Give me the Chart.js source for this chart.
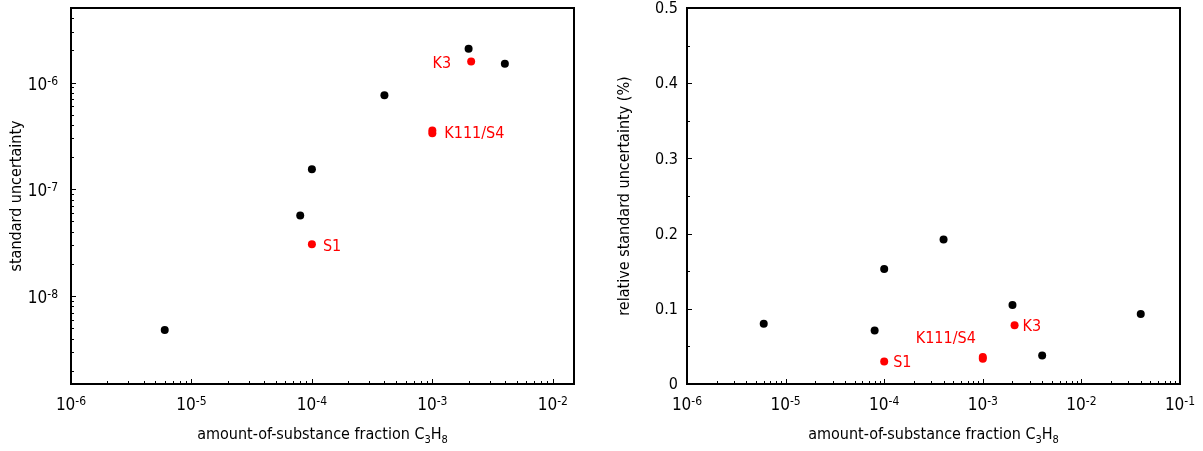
<!DOCTYPE html>
<html>
<head>
<meta charset="utf-8">
<script src="https://cdn.jsdelivr.net/npm/chart.js@4"></script>
<style>
  html, body { margin: 0; padding: 0; background: #fff; overflow: hidden; }
  #wrap { position: relative; width: 1203px; height: 451px; }
  canvas { position: absolute; top: 0; }
</style>
</head>
<body>
<div id="wrap">
  <canvas id="absChart" width="600" height="451" style="left:0"></canvas>
  <canvas id="relChart" width="603" height="451" style="left:600px"></canvas>
</div>
<script>
// Propane amount-of-substance fractions of the mixtures
const fractions = [6e-6, 8e-5, 1e-4, 4e-4, 2e-3, 4e-3, 4e-2];
// Standard uncertainty; the 4e-2 mixture is above the plotted range (null)
const stdUncertainty = [4.8e-9, 5.7e-8, 1.54e-7, 7.6e-7, 2.08e-6, 1.5e-6, null];
// Relative standard uncertainty in %
const relUncertainty = [0.080, 0.071, 0.153, 0.192, 0.105, 0.038, 0.093];

// Comparison reference mixtures (red)
const refNames = ['S1', 'K111/S4', 'K111/S4', 'K3'];
const refFractions = [1e-4, 1e-3, 1e-3, 2.1e-3];
const refStdUncertainty = [3.05e-8, 3.35e-7, 3.55e-7, 1.58e-6];
const refRelUncertainty = [0.030, 0.0335, 0.036, 0.078];

// Tick labels
const absXDecades = [-6, -5, -4, -3, -2];
const relXDecades = [-6, -5, -4, -3, -2, -1];
const absYDecades = [-8, -7, -6];
const relYTicks = [0, 0.1, 0.2, 0.3, 0.4, 0.5];

// Pick the narrower DejaVu face when present
function hasFont(name) {
  const c = document.createElement('canvas').getContext('2d');
  const s = 'amount-of-substance 0123456789';
  c.font = "40px monospace"; const a = c.measureText(s).width;
  c.font = "40px '" + name + "', monospace"; const b = c.measureText(s).width;
  return Math.abs(a - b) > 0.5;
}
const CONDENSED = hasFont('DejaVu Sans Condensed');
const FAMILY = CONDENSED ? "'DejaVu Sans Condensed', 'DejaVu Sans', sans-serif" : "'DejaVu Sans', sans-serif";
const K = CONDENSED ? 1 : 0.9;
const S = {
  tick: 17 * K, sup: 12 * K, supRise: 5,
  ytick: 16 * K, title: 16 * K, sub: 11 * K, subDrop: 4,
  label: 16 * K
};
const font = size => size.toFixed(1) + 'px ' + FAMILY;
const RED = '#ff0000';

function powText(e) { return e < 0 ? '-' + (-e) : String(e); }

// "10" with a raised exponent; y is the baseline of "10"
function drawPow(ctx, e, x, y, align) {
  ctx.font = font(S.tick);
  const wb = ctx.measureText('10').width;
  ctx.font = font(S.sup);
  const sup = powText(e);
  const ws = ctx.measureText(sup).width;
  const total = wb + ws;
  const x0 = align === 'center' ? x - total / 2 : align === 'right' ? x - total : x;
  ctx.textAlign = 'left';
  ctx.textBaseline = 'alphabetic';
  ctx.fillStyle = '#000';
  ctx.font = font(S.tick);
  ctx.fillText('10', x0, y);
  ctx.font = font(S.sup);
  ctx.fillText(sup, x0 + wb, y - S.supRise);
}

// Horizontal title with subscripts: parts = [[text, isSub], ...]
function drawRichText(ctx, parts, cx, y) {
  const widths = parts.map(([t, sub]) => { ctx.font = font(sub ? S.sub : S.title); return ctx.measureText(t).width; });
  let x = cx - widths.reduce((a, b) => a + b, 0) / 2;
  ctx.textAlign = 'left';
  ctx.textBaseline = 'alphabetic';
  ctx.fillStyle = '#000';
  parts.forEach(([t, sub], i) => {
    ctx.font = font(sub ? S.sub : S.title);
    ctx.fillText(t, x, sub ? y + S.subDrop : y);
    x += widths[i];
  });
}

function drawYTitle(ctx, text, cx, cy) {
  ctx.save();
  ctx.translate(cx, cy);
  ctx.rotate(-Math.PI / 2);
  ctx.font = font(S.title);
  ctx.fillStyle = '#000';
  ctx.textAlign = 'center';
  ctx.textBaseline = 'middle';
  ctx.fillText(text, 0, 0);
  ctx.restore();
}

function logTickValues(min, max) {
  const out = [];
  for (let d = Math.floor(Math.log10(min)); d <= Math.ceil(Math.log10(max)); d++) {
    for (let m = 1; m <= 9; m++) {
      const v = m * Math.pow(10, d);
      if (v >= min * 0.9999 && v <= max * 1.0001) out.push({ v, major: m === 1 });
    }
  }
  return out;
}

const xTitle = [['amount-of-substance fraction C', false], ['3', true], ['H', false], ['8', true]];

function frameAndTicks(chart, yTicks) {
  const { ctx, chartArea: a, scales } = chart;
  ctx.save();
  ctx.strokeStyle = '#000';
  ctx.lineWidth = 1;
  ctx.beginPath();
  logTickValues(scales.x.min, scales.x.max).forEach(t => {
    const px = Math.round(scales.x.getPixelForValue(t.v)) + 0.5;
    const len = t.major ? 5 : 3;
    ctx.moveTo(px, a.bottom);
    ctx.lineTo(px, a.bottom - len);
  });
  yTicks.forEach(t => {
    const py = Math.round(scales.y.getPixelForValue(t.v)) + 0.5;
    const len = t.major ? 5 : 3;
    ctx.moveTo(a.left, py);
    ctx.lineTo(a.left + len, py);
  });
  ctx.stroke();
  ctx.lineWidth = 2;
  ctx.strokeRect(a.left, a.top, a.right - a.left, a.bottom - a.top);
  ctx.restore();
}

function drawRefLabels(chart, yValues, place) {
  const { ctx, scales } = chart;
  ctx.save();
  ctx.font = font(S.label);
  ctx.fillStyle = RED;
  ctx.textBaseline = 'middle';
  const done = {};
  refNames.forEach((name, i) => {
    if (done[name]) return;
    done[name] = true;
    const idx = refNames.map((n, j) => n === name ? j : -1).filter(j => j >= 0);
    const px = scales.x.getPixelForValue(refFractions[i]);
    const py = idx.reduce((s, j) => s + scales.y.getPixelForValue(yValues[j]), 0) / idx.length;
    const p = place[name];
    ctx.textAlign = p.align;
    ctx.fillText(name, px + p.dx, py + p.dy);
  });
  ctx.restore();
}

function scatterData(xs, ys) {
  return xs.map((x, i) => ({ x, y: ys[i] })).filter(p => p.y !== null);
}

function baseOptions(padding, xMax, yScale) {
  return {
    responsive: false,
    animation: false,
    events: [],
    layout: { padding },
    plugins: { legend: { display: false }, tooltip: { enabled: false } },
    scales: {
      x: { type: 'logarithmic', min: 1e-6, max: xMax, display: false },
      y: Object.assign({ display: false }, yScale)
    }
  };
}

const pointStyle = color => ({
  pointRadius: 4, pointHoverRadius: 4, pointBackgroundColor: color,
  pointBorderWidth: 0, borderColor: color, backgroundColor: color, showLine: false
});

// Left: absolute standard uncertainty
new Chart(document.getElementById('absChart'), {
  type: 'scatter',
  data: {
    datasets: [
      Object.assign({ data: scatterData(fractions, stdUncertainty) }, pointStyle('#000')),
      Object.assign({ data: scatterData(refFractions, refStdUncertainty) }, pointStyle(RED))
    ]
  },
  options: baseOptions({ left: 71, top: 8, right: 26, bottom: 67 }, 1.5e-2,
    { type: 'logarithmic', min: 1.5e-9, max: 5e-6 }),
  plugins: [{
    id: 'absDecor',
    afterDraw(chart) {
      const { ctx, chartArea: a, scales } = chart;
      frameAndTicks(chart, logTickValues(scales.y.min, scales.y.max));
      absXDecades.forEach(e => drawPow(ctx, e, scales.x.getPixelForValue(Math.pow(10, e)), 410, 'center'));
      absYDecades.forEach(e => drawPow(ctx, e, a.left - 13, scales.y.getPixelForValue(Math.pow(10, e)) + 7, 'right'));
      drawRichText(ctx, xTitle, (a.left + a.right) / 2, 439);
      drawYTitle(ctx, 'standard uncertainty', 17, (a.top + a.bottom) / 2);
      drawRefLabels(chart, refStdUncertainty, {
        'S1': { dx: 11, dy: 2, align: 'left' },
        'K111/S4': { dx: 12, dy: 2, align: 'left' },
        'K3': { dx: -20, dy: 2, align: 'right' }
      });
    }
  }]
});

// Right: relative standard uncertainty
new Chart(document.getElementById('relChart'), {
  type: 'scatter',
  data: {
    datasets: [
      Object.assign({ data: scatterData(fractions, relUncertainty) }, pointStyle('#000')),
      Object.assign({ data: scatterData(refFractions, refRelUncertainty) }, pointStyle(RED))
    ]
  },
  options: baseOptions({ left: 87, top: 8, right: 23, bottom: 67 }, 1e-1,
    { type: 'linear', min: 0, max: 0.5 }),
  plugins: [{
    id: 'relDecor',
    afterDraw(chart) {
      const { ctx, chartArea: a, scales } = chart;
      const yt = [];
      for (let k = 0; k <= 10; k++) yt.push({ v: k * 0.05, major: k % 2 === 0 });
      frameAndTicks(chart, yt.filter(t => t.v > 0 && t.v < 0.5));
      relXDecades.forEach(e => drawPow(ctx, e, scales.x.getPixelForValue(Math.pow(10, e)), 410, 'center'));
      ctx.save();
      ctx.font = font(S.ytick);
      ctx.fillStyle = '#000';
      ctx.textAlign = 'right';
      ctx.textBaseline = 'middle';
      relYTicks.forEach(v => ctx.fillText(v === 0 ? '0' : v.toFixed(1), a.left - 9, scales.y.getPixelForValue(v) + 1));
      ctx.restore();
      drawRichText(ctx, xTitle, (a.left + a.right) / 2, 439);
      drawYTitle(ctx, 'relative standard uncertainty (%)', 25, (a.top + a.bottom) / 2);
      drawRefLabels(chart, refRelUncertainty, {
        'S1': { dx: 9, dy: 1, align: 'left' },
        'K111/S4': { dx: -7, dy: -19, align: 'right' },
        'K3': { dx: 8, dy: 1, align: 'left' }
      });
    }
  }]
});
</script>
</body>
</html>
